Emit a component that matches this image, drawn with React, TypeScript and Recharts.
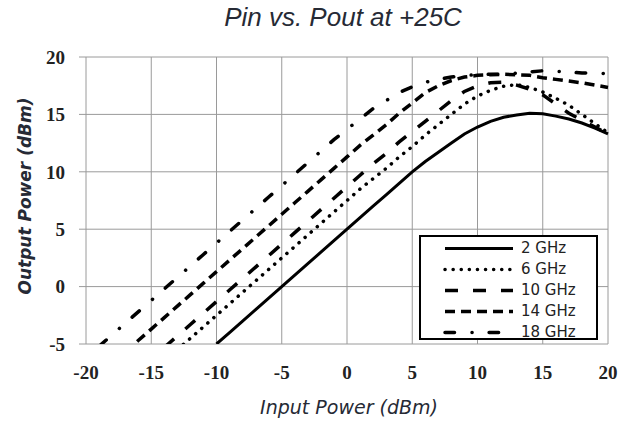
import { CartesianGrid, Label, Legend, Line, LineChart, XAxis, YAxis } from "recharts";

// input power sweep, dBm
const inputPower = [
  -20, -19, -18, -17, -16, -15, -14, -13, -12, -11, -10, -9, -8, -7, -6, -5, -4, -3, -2, -1, 0,
  1, 2, 3, 4, 5, 6, 7, 8, 9, 10, 11, 12, 13, 14, 15, 16, 17, 18, 19, 20,
];

// output power per frequency, dBm (null = not measured)
const pout2 = [
  null, null, null, null, null, null, null, null, null, null, -5, -4, -3, -2, -1, 0, 1, 2, 3, 4, 5,
  6, 7, 8, 9, 10.0, 10.9, 11.7, 12.5, 13.3, 13.9, 14.4, 14.75, 14.95, 15.1, 15.05, 14.85, 14.6, 14.25, 13.8, 13.3,
];
const pout6 = [
  null, null, null, null, null, null, null, -5.5, -4.5, -3.5, -2.5, -1.5, -0.5, 0.5, 1.5, 2.5, 3.5, 4.5, 5.5, 6.5, 7.5,
  8.5, 9.4, 10.3, 11.3, 12.2, 13.2, 14.1, 15.0, 15.9, 16.6, 17.1, 17.45, 17.6, 17.35, 16.95, 16.4, 15.8, 15.0, 14.2, 13.4,
];
const pout10 = [
  null, null, null, null, null, null, -5.3, -4.3, -3.3, -2.3, -1.3, -0.3, 0.7, 1.7, 2.7, 3.7, 4.7, 5.7, 6.7, 7.7, 8.7,
  9.7, 10.7, 11.6, 12.6, 13.5, 14.4, 15.3, 16.2, 17.0, 17.5, 17.75, 17.8, 17.55, 17.2, 16.7, 15.9, 15.1, 14.5, 13.9, 13.3,
];
const pout14 = [
  null, null, null, -5.7, -4.7, -3.7, -2.7, -1.7, -0.7, 0.3, 1.3, 2.3, 3.3, 4.3, 5.3, 6.3, 7.3, 8.3, 9.3, 10.3, 11.3,
  12.3, 13.2, 14.1, 15.1, 16.0, 16.9, 17.5, 17.95, 18.25, 18.4, 18.45, 18.5, 18.45, 18.4, 18.2, 18.05, 17.9, 17.75, 17.55, 17.35,
];
const pout18 = [
  null, -5.2, -4.2, -3.2, -2.2, -1.2, -0.2, 0.8, 1.8, 2.8, 3.8, 4.8, 5.8, 6.8, 7.8, 8.8, 9.8, 10.8, 11.8, 12.8, 13.7,
  14.6, 15.5, 16.2, 16.9, 17.4, 17.8, 18.05, 18.25, 18.4, 18.45, 18.5, 18.5, 18.6, 18.7, 18.8, 18.75, 18.7, 18.6, 18.6, 18.55,
];

const xTicks = [-20, -15, -10, -5, 0, 5, 10, 15, 20];
const yTicks = [-5, 0, 5, 10, 15, 20];

const series = [
  { key: "f2", name: "2 GHz", values: pout2, dash: undefined, cap: "butt", width: 3 },
  { key: "f6", name: "6 GHz", values: pout6, dash: "0.1 8", cap: "round", width: 3.5 },
  { key: "f10", name: "10 GHz", values: pout10, dash: "13 15", cap: "butt", width: 3.5 },
  { key: "f14", name: "14 GHz", values: pout14, dash: "10 6", cap: "butt", width: 3.5 },
  { key: "f18", name: "18 GHz", values: pout18, dash: "9.5 17.5 0.1 17", cap: "round", width: 3.5 },
];

const data = inputPower.map((x, i) => {
  const row: Record<string, number | null> = { x };
  series.forEach((s) => (row[s.key] = s.values[i]));
  return row;
});

const tickFont = { fontFamily: "'Liberation Serif', serif", fontWeight: 700, fontSize: 19, fill: "#222" };

const LegendBox = () => (
  <div
    style={{
      width: 175,
      height: 100,
      border: "2px solid #000",
      background: "#fff",
      paddingTop: 1,
      fontFamily: "'DejaVu Sans', sans-serif",
      fontSize: 15,
      color: "#222",
    }}
  >
    {series.map((s) => (
      <div key={s.key} style={{ display: "flex", alignItems: "center", height: 21 }}>
        <svg width={100} height={21} style={{ flex: "none" }}>
          <line
            x1={24}
            x2={92}
            y1={10.5}
            y2={10.5}
            stroke="#000"
            strokeWidth={s.width}
            strokeDasharray={s.dash}
            strokeLinecap={s.cap as any}
          />
        </svg>
        <span style={{ lineHeight: "21px" }}>{s.name}</span>
      </div>
    ))}
  </div>
);

export default function App() {
  return (
    <div style={{ position: "absolute", left: 0, top: 0, width: 631, height: 422, background: "#fff" }}>
      <div
        style={{
          position: "absolute",
          left: 0,
          width: 686,
          top: 1,
          textAlign: "center",
          fontFamily: "'Liberation Sans', Arial, sans-serif",
          fontStyle: "italic",
          fontSize: 26,
          lineHeight: "32px",
          color: "#262a35",
        }}
      >
        Pin vs. Pout at +25C
      </div>
      <LineChart width={631} height={422} data={data} margin={{ top: 57, right: 23, bottom: 0, left: 0 }}>
        <CartesianGrid stroke="#9a9a9a" strokeWidth={1} />
        <XAxis
          dataKey="x"
          type="number"
          domain={[-20, 20]}
          ticks={xTicks}
          height={78}
          axisLine={false}
          tickLine={false}
          tickSize={0}
          tickMargin={22}
          tick={tickFont}
        >
          <Label
            content={() => (
              <text
                x={349}
                y={414}
                textAnchor="middle"
                fontFamily="'DejaVu Sans', sans-serif"
                fontStyle="italic"
                fontSize={19}
                fill="#262a35"
              >
                Input Power (dBm)
              </text>
            )}
          />
        </XAxis>
        <YAxis
          type="number"
          domain={[-5, 20]}
          ticks={yTicks}
          allowDataOverflow
          width={86}
          axisLine={false}
          tickLine={{ stroke: "#9a9a9a" }}
          tickSize={7}
          tickMargin={14}
          tick={tickFont}
        >
          <Label
            content={() => (
              <text
                x={31}
                y={196}
                transform="rotate(-90 31 196)"
                textAnchor="middle"
                fontFamily="'DejaVu Sans', sans-serif"
                fontStyle="italic"
                fontWeight={700}
                fontSize={17}
                fill="#262a35"
              >
                Output Power (dBm)
              </text>
            )}
          />
        </YAxis>
        <Legend
          layout="vertical"
          align="center"
          verticalAlign="middle"
          wrapperStyle={{ left: 419, top: 235, width: 179, height: 104 }}
          content={() => <LegendBox />}
        />
        {series.map((s) => (
          <Line
            key={s.key}
            dataKey={s.key}
            name={s.name}
            type="linear"
            stroke="#000"
            strokeWidth={s.width}
            strokeDasharray={s.dash}
            strokeLinecap={s.cap as any}
            dot={false}
            activeDot={false}
            isAnimationActive={false}
          />
        ))}
      </LineChart>
    </div>
  );
}
